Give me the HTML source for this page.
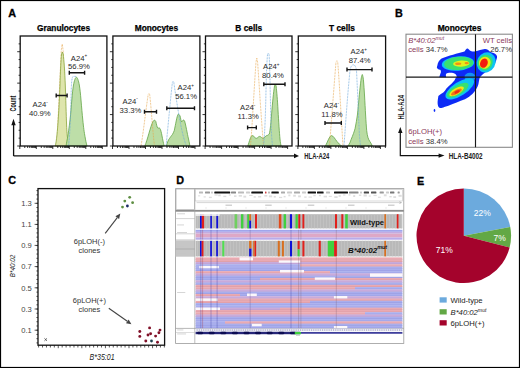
<!DOCTYPE html>
<html><head><meta charset="utf-8"><style>
html,body{margin:0;padding:0;background:#fff;}
svg{display:block;font-family:"Liberation Sans", sans-serif;}
</style></head><body>
<svg width="520" height="368" viewBox="0 0 520 368">
<rect width="520" height="368" fill="#fff"/>
<rect x="0.5" y="0.5" width="519" height="367" fill="none" stroke="#000" stroke-width="1.2"/>
<text x="8.2" y="17.1" font-size="10.8" font-weight="bold" font-style="normal" fill="#000" text-anchor="start" stroke="#000" stroke-width="0.3">A</text>
<text x="395.0" y="17.1" font-size="10.8" font-weight="bold" font-style="normal" fill="#000" text-anchor="start" stroke="#000" stroke-width="0.3">B</text>
<text x="8.2" y="184.3" font-size="10.8" font-weight="bold" font-style="normal" fill="#000" text-anchor="start" stroke="#000" stroke-width="0.3">C</text>
<text x="176.2" y="184.3" font-size="10.8" font-weight="bold" font-style="normal" fill="#000" text-anchor="start" stroke="#000" stroke-width="0.3">D</text>
<text x="417.0" y="185.0" font-size="10.8" font-weight="bold" font-style="normal" fill="#000" text-anchor="start" stroke="#000" stroke-width="0.3">E</text>
<text x="63.550000000000004" y="31.0" font-size="8.3" font-weight="bold" font-style="normal" fill="#000" text-anchor="middle" stroke="#000" stroke-width="0.25">Granulocytes</text>
<text x="156.4" y="31.0" font-size="8.3" font-weight="bold" font-style="normal" fill="#000" text-anchor="middle" stroke="#000" stroke-width="0.25">Monocytes</text>
<text x="248.75" y="31.0" font-size="8.3" font-weight="bold" font-style="normal" fill="#000" text-anchor="middle" stroke="#000" stroke-width="0.25">B cells</text>
<text x="341.95000000000005" y="31.0" font-size="8.3" font-weight="bold" font-style="normal" fill="#000" text-anchor="middle" stroke="#000" stroke-width="0.25">T cells</text>
<path d="M56.5,146 C58,125 59.8,80 61.3,50 L62.2,44 L63.1,50 C64.3,80 65.6,120 66.8,146" fill="none" fill-opacity="1.0" stroke="#e6a448" stroke-width="0.85" stroke-dasharray="0.7 0.8" stroke-linejoin="round"/>
<path d="M55.2,146 C56.5,142 57.5,130 58.2,120 C59,108 59.6,95 60,85 C60.4,72 60.9,60 61.6,54 L62.4,52 L63.2,54 C64,60 64.8,72 65.3,85 C65.8,98 66.2,115 66.6,125 C66.9,132 67.2,136 67.6,138.5 C68.3,142 69,145 69.5,146 Z" fill="#dce4a8" fill-opacity="0.95" stroke="#8aa63e" stroke-width="0.8" stroke-linejoin="round"/>
<path d="M66,146 C66.6,143 67,140 67.4,138.6 C68.2,134 69.2,127 70,120 C70.8,113 71.3,106 71.8,100 C72.3,94 72.8,89 73.5,85 C74.3,80.5 75.4,77.3 76.4,77.2 C77.4,77.3 78.5,80.5 79.3,85 C80,89 80.5,94 81,100 C81.6,107 82.2,114 82.8,120 C83.5,127 84.3,133 85,136.5 C85.6,140 86.3,143.5 87,146 Z" fill="#b6da9e" fill-opacity="0.9" stroke="#62a445" stroke-width="0.8" stroke-linejoin="round"/>
<path d="M68.5,146 C69.5,140 70.6,120 71,100 C71.2,88 71.5,80 72.5,77 C73.5,76.2 75,76.3 76.4,76.6" fill="none" fill-opacity="1.0" stroke="#6aa6da" stroke-width="0.8" stroke-dasharray="0.8 0.7" stroke-linejoin="round"/>
<path d="M144.8,146 C147.5,140 150.5,126 153,121.5 C154,119.8 155,119.8 155.8,121.5 C156.5,124 157,127.5 157.8,128 C158.5,128.3 159.3,127.5 160,128.5 C161.5,131 162.5,140 164.2,146 Z" fill="#b6da9e" fill-opacity="0.95" stroke="#62a445" stroke-width="0.8" stroke-linejoin="round"/>
<path d="M166.4,146 C167.5,142 168.5,139.5 169.4,138.6 C170.5,137 171.5,135.5 172.3,134.7 C173,133.5 173.7,132 174.2,130.8 C175,127 175.6,124 176.2,121 C176.8,118 177.5,115 178.2,114.2 C178.9,114 179.5,115 180.1,116.1 C180.6,118 181,121 181.5,122 C182.2,121.5 182.8,120 183.4,120 C183.9,120 184.3,120.5 184.6,121 C185.2,123 185.6,125 186,126.9 C186.7,130 187.4,134 188,136.7 C188.8,140 189.4,143 189.9,146 Z" fill="#b6da9e" fill-opacity="0.95" stroke="#62a445" stroke-width="0.8" stroke-linejoin="round"/>
<path d="M141,146 C143.5,132 146.5,104 148.3,94.2 L148.9,93.6 L149.6,94.2 C151,104 152.5,130 154.5,146" fill="none" fill-opacity="1.0" stroke="#e6a448" stroke-width="0.85" stroke-dasharray="0.7 0.8" stroke-linejoin="round"/>
<path d="M166,146 C167.8,130 170.3,100 172.4,82.4 L173.1,81.3 L173.8,82.4 C175.8,96 178.5,114 181,126 C183,136 184.8,142 186.5,146" fill="none" fill-opacity="1.0" stroke="#6aa6da" stroke-width="0.8" stroke-dasharray="0.8 0.7" stroke-linejoin="round"/>
<path d="M247.8,146 C249.5,141 250.8,135.6 252.2,135.6 C253.8,135.6 255,138.3 256.3,138.3 C257.6,138.3 258.4,136.4 259.6,136.4 C261,136.4 261.8,138.3 263,138.3 C264.5,138.3 265.5,135.6 266.6,135.6 C267.8,135.6 268.5,134.5 269.3,134 C270.3,130 271,122 271.6,114 C272.5,103 273.5,92 274.5,86 L275.3,84 L276.1,86 C276.8,92 277.5,100 278,110 C278.7,122 279.4,133 280,139 C280.4,143 280.8,145 281.2,146 Z" fill="#b6da9e" fill-opacity="0.95" stroke="#62a445" stroke-width="0.8" stroke-linejoin="round"/>
<path d="M250.5,146 C252,130 254,90 256,62 L256.8,58 L257.6,62 C258.5,75 259.6,92 260.4,104 C261.2,115 262.2,130 263.5,146" fill="none" fill-opacity="1.0" stroke="#e6a448" stroke-width="0.85" stroke-dasharray="0.7 0.8" stroke-linejoin="round"/>
<path d="M263.5,146 C264.5,138 265.3,120 265.8,100 C266.2,80 266.8,60 267.6,54 L268.3,53 L269,54 C269.6,60 270,80 270.4,100 C270.8,120 271.5,138 272.5,146" fill="none" fill-opacity="1.0" stroke="#6aa6da" stroke-width="0.8" stroke-dasharray="0.8 0.7" stroke-linejoin="round"/>
<path d="M325.4,146 C327.5,142 329.5,136 331.4,135.6 C333.2,135.6 335,139 337,141.5 C338.5,143.3 340,145 341.7,146 Z" fill="#b6da9e" fill-opacity="0.95" stroke="#62a445" stroke-width="0.8" stroke-linejoin="round"/>
<path d="M347.8,146 C349.5,144 350.5,141.5 351.1,139.5 C352.8,135.5 354.3,131.5 355.1,128.4 C356,124 356.8,119 357.4,115 C358,109 358.5,104 358.9,99.4 C359.5,93 360,88 360.5,83.8 C361,79 361.6,75.5 362.3,74.5 C362.8,75.5 363.1,77.5 363.4,79.4 C363.9,85 364.2,90 364.5,95 C364.9,102 365.3,109 365.6,115 C366,121 366.3,126 366.7,130.6 C367.3,136 368.3,139.5 370,141.7 C371,143.2 371.8,144.5 372.3,146 Z" fill="#b6da9e" fill-opacity="0.95" stroke="#62a445" stroke-width="0.8" stroke-linejoin="round"/>
<path d="M329.5,146 C331.5,120 334.5,80 336,62 L336.9,60.8 L337.7,62 C339.3,80 341.3,120 343,146" fill="none" fill-opacity="1.0" stroke="#e6a448" stroke-width="0.85" stroke-dasharray="0.7 0.8" stroke-linejoin="round"/>
<path d="M344,146 C345.5,125 347.5,95 350,70.5 C350.8,66 352,64.8 353.3,64.8 C354.6,64.8 355.8,66 356.5,70.5 C357.5,90 358.5,115 359.3,133 C359.8,140 360.2,144 360.5,146" fill="none" fill-opacity="1.0" stroke="#6aa6da" stroke-width="0.8" stroke-dasharray="0.8 0.7" stroke-linejoin="round"/>
<rect x="20.2" y="36.0" width="86.70" height="110.00" fill="none" stroke="#111" stroke-width="1.3"/>
<path d="M18.60,43.86H20.20 M17.20,51.71H20.20 M18.60,59.57H20.20 M18.60,67.43H20.20 M18.60,75.28H20.20 M17.20,83.14H20.20 M18.60,91.00H20.20 M18.60,98.86H20.20 M18.60,106.71H20.20 M17.20,114.57H20.20 M18.60,122.43H20.20 M18.60,130.28H20.20 M18.60,138.14H20.20 M17.20,146.00H20.20 M19.80,146.00v3.0 M24.77,146.00v2.0 M27.67,146.00v2.0 M29.73,146.00v2.0 M31.33,146.00v2.0 M32.64,146.00v2.0 M33.74,146.00v2.0 M34.70,146.00v2.0 M35.55,146.00v2.0 M36.30,146.00v3.0 M41.27,146.00v2.0 M44.17,146.00v2.0 M46.23,146.00v2.0 M47.83,146.00v2.0 M49.14,146.00v2.0 M50.24,146.00v2.0 M51.20,146.00v2.0 M52.05,146.00v2.0 M52.80,146.00v3.0 M57.77,146.00v2.0 M60.67,146.00v2.0 M62.73,146.00v2.0 M64.33,146.00v2.0 M65.64,146.00v2.0 M66.74,146.00v2.0 M67.70,146.00v2.0 M68.55,146.00v2.0 M69.30,146.00v3.0 M74.27,146.00v2.0 M77.17,146.00v2.0 M79.23,146.00v2.0 M80.83,146.00v2.0 M82.14,146.00v2.0 M83.24,146.00v2.0 M84.20,146.00v2.0 M85.05,146.00v2.0 M85.80,146.00v3.0 M90.77,146.00v2.0 M93.67,146.00v2.0 M95.73,146.00v2.0 M97.33,146.00v2.0 M98.64,146.00v2.0 M99.74,146.00v2.0 M100.70,146.00v2.0 M101.55,146.00v2.0 M102.30,146.00v3.0" stroke="#111" stroke-width="0.85" fill="none"/>
<rect x="112.9" y="36.0" width="87.00" height="110.00" fill="none" stroke="#111" stroke-width="1.3"/>
<path d="M111.30,43.86H112.90 M109.90,51.71H112.90 M111.30,59.57H112.90 M111.30,67.43H112.90 M111.30,75.28H112.90 M109.90,83.14H112.90 M111.30,91.00H112.90 M111.30,98.86H112.90 M111.30,106.71H112.90 M109.90,114.57H112.90 M111.30,122.43H112.90 M111.30,130.28H112.90 M111.30,138.14H112.90 M109.90,146.00H112.90 M112.50,146.00v3.0 M117.47,146.00v2.0 M120.37,146.00v2.0 M122.43,146.00v2.0 M124.03,146.00v2.0 M125.34,146.00v2.0 M126.44,146.00v2.0 M127.40,146.00v2.0 M128.25,146.00v2.0 M129.00,146.00v3.0 M133.97,146.00v2.0 M136.87,146.00v2.0 M138.93,146.00v2.0 M140.53,146.00v2.0 M141.84,146.00v2.0 M142.94,146.00v2.0 M143.90,146.00v2.0 M144.75,146.00v2.0 M145.50,146.00v3.0 M150.47,146.00v2.0 M153.37,146.00v2.0 M155.43,146.00v2.0 M157.03,146.00v2.0 M158.34,146.00v2.0 M159.44,146.00v2.0 M160.40,146.00v2.0 M161.25,146.00v2.0 M162.00,146.00v3.0 M166.97,146.00v2.0 M169.87,146.00v2.0 M171.93,146.00v2.0 M173.53,146.00v2.0 M174.84,146.00v2.0 M175.94,146.00v2.0 M176.90,146.00v2.0 M177.75,146.00v2.0 M178.50,146.00v3.0 M183.47,146.00v2.0 M186.37,146.00v2.0 M188.43,146.00v2.0 M190.03,146.00v2.0 M191.34,146.00v2.0 M192.44,146.00v2.0 M193.40,146.00v2.0 M194.25,146.00v2.0 M195.00,146.00v3.0" stroke="#111" stroke-width="0.85" fill="none"/>
<rect x="205.5" y="36.0" width="86.50" height="110.00" fill="none" stroke="#111" stroke-width="1.3"/>
<path d="M203.90,43.86H205.50 M202.50,51.71H205.50 M203.90,59.57H205.50 M203.90,67.43H205.50 M203.90,75.28H205.50 M202.50,83.14H205.50 M203.90,91.00H205.50 M203.90,98.86H205.50 M203.90,106.71H205.50 M202.50,114.57H205.50 M203.90,122.43H205.50 M203.90,130.28H205.50 M203.90,138.14H205.50 M202.50,146.00H205.50 M205.10,146.00v3.0 M210.07,146.00v2.0 M212.97,146.00v2.0 M215.03,146.00v2.0 M216.63,146.00v2.0 M217.94,146.00v2.0 M219.04,146.00v2.0 M220.00,146.00v2.0 M220.85,146.00v2.0 M221.60,146.00v3.0 M226.57,146.00v2.0 M229.47,146.00v2.0 M231.53,146.00v2.0 M233.13,146.00v2.0 M234.44,146.00v2.0 M235.54,146.00v2.0 M236.50,146.00v2.0 M237.35,146.00v2.0 M238.10,146.00v3.0 M243.07,146.00v2.0 M245.97,146.00v2.0 M248.03,146.00v2.0 M249.63,146.00v2.0 M250.94,146.00v2.0 M252.04,146.00v2.0 M253.00,146.00v2.0 M253.85,146.00v2.0 M254.60,146.00v3.0 M259.57,146.00v2.0 M262.47,146.00v2.0 M264.53,146.00v2.0 M266.13,146.00v2.0 M267.44,146.00v2.0 M268.54,146.00v2.0 M269.50,146.00v2.0 M270.35,146.00v2.0 M271.10,146.00v3.0 M276.07,146.00v2.0 M278.97,146.00v2.0 M281.03,146.00v2.0 M282.63,146.00v2.0 M283.94,146.00v2.0 M285.04,146.00v2.0 M286.00,146.00v2.0 M286.85,146.00v2.0 M287.60,146.00v3.0" stroke="#111" stroke-width="0.85" fill="none"/>
<rect x="298.3" y="36.0" width="87.30" height="110.00" fill="none" stroke="#111" stroke-width="1.3"/>
<path d="M296.70,43.86H298.30 M295.30,51.71H298.30 M296.70,59.57H298.30 M296.70,67.43H298.30 M296.70,75.28H298.30 M295.30,83.14H298.30 M296.70,91.00H298.30 M296.70,98.86H298.30 M296.70,106.71H298.30 M295.30,114.57H298.30 M296.70,122.43H298.30 M296.70,130.28H298.30 M296.70,138.14H298.30 M295.30,146.00H298.30 M297.90,146.00v3.0 M302.87,146.00v2.0 M305.77,146.00v2.0 M307.83,146.00v2.0 M309.43,146.00v2.0 M310.74,146.00v2.0 M311.84,146.00v2.0 M312.80,146.00v2.0 M313.65,146.00v2.0 M314.40,146.00v3.0 M319.37,146.00v2.0 M322.27,146.00v2.0 M324.33,146.00v2.0 M325.93,146.00v2.0 M327.24,146.00v2.0 M328.34,146.00v2.0 M329.30,146.00v2.0 M330.15,146.00v2.0 M330.90,146.00v3.0 M335.87,146.00v2.0 M338.77,146.00v2.0 M340.83,146.00v2.0 M342.43,146.00v2.0 M343.74,146.00v2.0 M344.84,146.00v2.0 M345.80,146.00v2.0 M346.65,146.00v2.0 M347.40,146.00v3.0 M352.37,146.00v2.0 M355.27,146.00v2.0 M357.33,146.00v2.0 M358.93,146.00v2.0 M360.24,146.00v2.0 M361.34,146.00v2.0 M362.30,146.00v2.0 M363.15,146.00v2.0 M363.90,146.00v3.0 M368.87,146.00v2.0 M371.77,146.00v2.0 M373.83,146.00v2.0 M375.43,146.00v2.0 M376.74,146.00v2.0 M377.84,146.00v2.0 M378.80,146.00v2.0 M379.65,146.00v2.0 M380.40,146.00v3.0 M385.37,146.00v2.0" stroke="#111" stroke-width="0.85" fill="none"/>
<path d="M56.2,95.5H67.1M56.2,93.5v4M67.1,93.5v4" stroke="#151515" stroke-width="1.4" fill="none"/>
<path d="M69.3,72.7H84.6M69.3,70.7v4M84.6,70.7v4" stroke="#151515" stroke-width="1.4" fill="none"/>
<path d="M144.5,111.8H156.5M144.5,109.8v4M156.5,109.8v4" stroke="#151515" stroke-width="1.4" fill="none"/>
<path d="M166.8,108.3H194.5M166.8,106.3v4M194.5,106.3v4" stroke="#151515" stroke-width="1.4" fill="none"/>
<path d="M247.6,127.6H256.3M247.6,125.6v4M256.3,125.6v4" stroke="#151515" stroke-width="1.4" fill="none"/>
<path d="M263.8,84.3H285.0M263.8,82.3v4M285.0,82.3v4" stroke="#151515" stroke-width="1.4" fill="none"/>
<path d="M325.0,123.0H341.3M325.0,121.0v4M341.3,121.0v4" stroke="#151515" stroke-width="1.4" fill="none"/>
<path d="M347.0,69.6H372.0M347.0,67.6v4M372.0,67.6v4" stroke="#151515" stroke-width="1.4" fill="none"/>
<text x="70.8" y="60.50" font-size="7.7" fill="#2a2a2a">A24<tspan font-size="4.6" dy="-3.2">+</tspan></text>
<text x="68.1" y="69.4" font-size="7.7" font-weight="normal" font-style="normal" fill="#2a2a2a" text-anchor="start" >56.9%</text>
<text x="32.6" y="106.70" font-size="7.7" fill="#2a2a2a">A24<tspan font-size="4.6" dy="-3.2">-</tspan></text>
<text x="28.9" y="115.6" font-size="7.7" font-weight="normal" font-style="normal" fill="#2a2a2a" text-anchor="start" >40.9%</text>
<text x="122.6" y="103.60" font-size="7.7" fill="#2a2a2a">A24<tspan font-size="4.6" dy="-3.2">-</tspan></text>
<text x="119.6" y="112.5" font-size="7.7" font-weight="normal" font-style="normal" fill="#2a2a2a" text-anchor="start" >33.3%</text>
<text x="177.6" y="89.70" font-size="7.7" fill="#2a2a2a">A24<tspan font-size="4.6" dy="-3.2">+</tspan></text>
<text x="175.2" y="98.6" font-size="7.7" font-weight="normal" font-style="normal" fill="#2a2a2a" text-anchor="start" >56.1%</text>
<text x="240.1" y="110.40" font-size="7.7" fill="#2a2a2a">A24<tspan font-size="4.6" dy="-3.2">-</tspan></text>
<text x="237.6" y="119.3" font-size="7.7" font-weight="normal" font-style="normal" fill="#2a2a2a" text-anchor="start" >11.3%</text>
<text x="263.1" y="69.10" font-size="7.7" fill="#2a2a2a">A24<tspan font-size="4.6" dy="-3.2">+</tspan></text>
<text x="262.1" y="78.0" font-size="7.7" font-weight="normal" font-style="normal" fill="#2a2a2a" text-anchor="start" >80.4%</text>
<text x="323.8" y="108.40" font-size="7.7" fill="#2a2a2a">A24<tspan font-size="4.6" dy="-3.2">-</tspan></text>
<text x="321.3" y="117.3" font-size="7.7" font-weight="normal" font-style="normal" fill="#2a2a2a" text-anchor="start" >11.8%</text>
<text x="350.6" y="54.10" font-size="7.7" fill="#2a2a2a">A24<tspan font-size="4.6" dy="-3.2">+</tspan></text>
<text x="348.8" y="63.0" font-size="7.7" font-weight="normal" font-style="normal" fill="#2a2a2a" text-anchor="start" >87.4%</text>
<path d="M13.6,155.9H295.5 M13.6,155.9V124" stroke="#111" stroke-width="1.3" fill="none"/>
<path d="M299,155.9 L294,153.5 L294,158.3 Z" fill="#111"/>
<path d="M13.5,118.8 L11.3,125.2 L15.7,125.2 Z" fill="#111"/>
<text x="304.3" y="158.8" font-size="8.8" font-weight="bold" fill="#222" textLength="24.9" lengthAdjust="spacingAndGlyphs">HLA-A24</text>
<text transform="translate(15.7,111.5) rotate(-90)" x="0" y="0" font-size="9.2" font-weight="bold" fill="#111" textLength="15.9" lengthAdjust="spacingAndGlyphs">Count</text>
<text x="459.5" y="31.0" font-size="8.4" font-weight="bold" font-style="normal" fill="#000" text-anchor="middle" stroke="#000" stroke-width="0.25">Monocytes</text>
<defs><filter id="bl" x="-10%" y="-10%" width="120%" height="120%"><feGaussianBlur stdDeviation="0.45"/></filter></defs>
<g filter="url(#bl)">
<path d="M437.3,65.7 C437.8,62.5 439.5,59.8 441.6,58.6 C445,57 449,55.8 453,54.8 C457,53.5 461,52.6 464.5,51.6 C465.5,49.5 466.5,48.2 467.6,48.4 C468.8,48.8 469.5,50.5 470.8,51 C472.5,51.6 474,51.6 475.5,51.3 C478.5,50.5 481.5,49.4 484.8,49 C487,48.8 488.3,50 489.8,51.6 C492.5,53 495,53.3 496.2,54.8 C497.3,56 497.2,57.2 496.8,58.5 C496,61.5 495,63.5 493.6,65.6 C491.5,68.5 489.5,70 487.3,71.3 C484.5,73 481.5,75 479.8,77.5 C479,80 478.8,82.5 478.4,84.3 C477.5,87 476.5,89 475.3,90.5 C473.5,93 471.5,95 469.1,96.7 C466.5,98.6 463.5,99.8 460.8,100.8 C458,102 455.3,103 452.6,103.9 C449.8,105 447,106.3 444.3,107 C442.8,107.6 441.2,108.2 440.2,108 C439,107.6 438.3,106.8 438.1,106 C437.7,104.7 437.5,103.3 437.6,101.9 C437.7,100.5 437.9,99 438.1,97.7 C438.2,96.8 438.3,96.2 438.6,95.7 C440,94.5 441.8,93.6 443.3,92.6 C444.5,91.3 445.4,89.8 446.4,88.4 C448,86.8 449.8,85.3 451.5,83.8 C452.6,82.6 453.6,81.4 454.6,80.2 C455,79.3 455.3,78.6 455.7,78.1 L456.8,76.8 C456.5,74.5 455,73 452,72.8 C449.5,72.6 447.2,72.8 446.2,73.8 C445.5,75 446,76.2 446.2,77.2 L439.3,77.2 C439.6,75.5 440.6,73.5 440.9,72.2 C441,70.8 440.6,70 440.1,69.8 C438.5,69.3 437.1,68.5 436.9,67.7 C436.8,67 437,66.3 437.3,65.7 Z" fill="#0a2cf6"/>
<ellipse cx="458" cy="63.6" rx="16.2" ry="7.1" transform="rotate(-5 458 63.6)" fill="#0cc4f4"/>
<ellipse cx="486.2" cy="62.4" rx="9.2" ry="10.4" transform="rotate(30 486.2 62.4)" fill="#0cc4f4"/>
<ellipse cx="470" cy="77" rx="5.5" ry="4.2" fill="#1890f4"/>
<ellipse cx="459.8" cy="88.8" rx="16.5" ry="6.8" transform="rotate(-33 459.8 88.8)" fill="#0cc4f4"/>
<ellipse cx="458.7" cy="63.4" rx="14.6" ry="6.6" transform="rotate(-4 458.7 63.4)" fill="#38e070"/>
<ellipse cx="485.2" cy="62.6" rx="7.4" ry="8.1" transform="rotate(30 485.2 62.6)" fill="#38e070"/>
<ellipse cx="457.7" cy="90.2" rx="12.2" ry="4.9" transform="rotate(-30 457.7 90.2)" fill="#38e070"/>
<ellipse cx="461.3" cy="63.6" rx="8.2" ry="3.1" transform="rotate(-3 461.3 63.6)" fill="#e4f01c"/>
<ellipse cx="484.8" cy="62.7" rx="5.8" ry="6.1" transform="rotate(30 484.8 62.7)" fill="#f0e818"/>
<ellipse cx="456.6" cy="91.3" rx="8.2" ry="3.1" transform="rotate(-30 456.6 91.3)" fill="#f0e818"/>
<ellipse cx="458.2" cy="63.7" rx="3.1" ry="1.3" fill="#f09018"/>
<ellipse cx="466.7" cy="63.1" rx="2.2" ry="1.2" fill="#f09018"/>
<ellipse cx="483.9" cy="63.2" rx="3.7" ry="4.8" transform="rotate(25 483.9 63.2)" fill="#f41c0c"/>
<ellipse cx="456.4" cy="92" rx="6" ry="2.1" transform="rotate(-28 456.4 92)" fill="#f07818"/>
<ellipse cx="457.2" cy="91.8" rx="3" ry="1.3" transform="rotate(-25 457.2 91.8)" fill="#f02c10"/>
<ellipse cx="434.5" cy="110.5" rx="0.8" ry="1.4" fill="#0a2cf6"/>
</g>
<rect x="406" y="34.2" width="106.4" height="113.1" fill="none" stroke="#8a8a8a" stroke-width="1.1"/>
<path d="M475.5,34.2V147.3 M406,77.1H512.4" stroke="#1a1a1a" stroke-width="1.15" fill="none"/>
<text x="408.2" y="42.7" font-size="7.7" font-style="italic" fill="#8c3a5c">B*40:02<tspan font-size="5.2" dy="-3">mut</tspan></text>
<text x="408.2" y="52.3" font-size="7.7" fill="#8c3a5c">cells <tspan fill="#333">34.7%</tspan></text>
<text x="512.0" y="42.7" font-size="7.7" font-weight="normal" font-style="normal" fill="#8c3a5c" text-anchor="end" >WT cells</text>
<text x="512.0" y="52.3" font-size="7.7" font-weight="normal" font-style="normal" fill="#333" text-anchor="end" >26.7%</text>
<text x="408.2" y="134.4" font-size="7.7" font-weight="normal" font-style="normal" fill="#8c3a5c" text-anchor="start" >6pLOH(+)</text>
<text x="408.2" y="143.8" font-size="7.7" fill="#8c3a5c">cells <tspan fill="#333">38.4%</tspan></text>
<path d="M400.3,131 V155.6 H440" stroke="#111" stroke-width="1.2" fill="none"/>
<path d="M400.3,126.9 L398.1,133 L402.5,133 Z M444.5,155.6 L438.6,153.4 L438.6,157.8 Z" fill="#111"/>
<text x="448.8" y="158.8" font-size="8.6" font-weight="bold" fill="#222" textLength="33.7" lengthAdjust="spacingAndGlyphs">HLA-B4002</text>
<text transform="translate(403.6,119.6) rotate(-90)" x="0" y="0" font-size="8.8" font-weight="bold" fill="#222" textLength="24.6" lengthAdjust="spacingAndGlyphs">HLA-A24</text>
<rect x="38.0" y="188.6" width="126.6" height="156.6" fill="none" stroke="#111" stroke-width="1.3"/>
<text x="31.8" y="206.0" font-size="7.6" font-weight="normal" font-style="normal" fill="#444" text-anchor="end" >1.3</text>
<text x="31.8" y="227.1" font-size="7.6" font-weight="normal" font-style="normal" fill="#444" text-anchor="end" >1.1</text>
<text x="31.8" y="248.1" font-size="7.6" font-weight="normal" font-style="normal" fill="#444" text-anchor="end" >0.9</text>
<text x="31.8" y="269.3" font-size="7.6" font-weight="normal" font-style="normal" fill="#444" text-anchor="end" >0.7</text>
<text x="31.8" y="290.5" font-size="7.6" font-weight="normal" font-style="normal" fill="#444" text-anchor="end" >0.5</text>
<text x="31.8" y="311.7" font-size="7.6" font-weight="normal" font-style="normal" fill="#444" text-anchor="end" >0.3</text>
<text x="31.8" y="332.9" font-size="7.6" font-weight="normal" font-style="normal" fill="#444" text-anchor="end" >0.1</text>
<path d="M36.40,190.61H38.0 M36.40,194.84H38.0 M36.40,199.07H38.0 M36.40,203.30H38.0 M36.40,207.53H38.0 M36.40,211.76H38.0 M36.40,215.99H38.0 M36.40,220.22H38.0 M36.40,224.45H38.0 M36.40,228.68H38.0 M36.40,232.91H38.0 M36.40,237.14H38.0 M36.40,241.37H38.0 M36.40,245.60H38.0 M36.40,249.83H38.0 M36.40,254.06H38.0 M36.40,258.29H38.0 M36.40,262.52H38.0 M36.40,266.75H38.0 M36.40,270.98H38.0 M36.40,275.21H38.0 M36.40,279.44H38.0 M36.40,283.67H38.0 M36.40,287.90H38.0 M36.40,292.13H38.0 M36.40,296.36H38.0 M36.40,300.59H38.0 M36.40,304.82H38.0 M36.40,309.05H38.0 M36.40,313.28H38.0 M36.40,317.51H38.0 M36.40,321.74H38.0 M36.40,325.97H38.0 M36.40,330.20H38.0 M36.40,334.43H38.0 M36.40,338.66H38.0 M36.40,342.89H38.0 M34.60,203.30H38.0 M34.60,224.40H38.0 M34.60,245.40H38.0 M34.60,266.60H38.0 M34.60,287.80H38.0 M34.60,309.00H38.0 M34.60,330.20H38.0 M38.60,345.2v2.3 M42.53,345.2v2.3 M46.46,345.2v2.3 M50.39,345.2v2.3 M54.32,345.2v2.3 M58.25,345.2v3.0 M62.18,345.2v2.3 M66.11,345.2v2.3 M70.04,345.2v2.3 M73.97,345.2v2.3 M77.90,345.2v2.3 M81.83,345.2v3.0 M85.76,345.2v2.3 M89.69,345.2v2.3 M93.62,345.2v2.3 M97.55,345.2v2.3 M101.48,345.2v2.3 M105.41,345.2v3.0 M109.34,345.2v2.3 M113.27,345.2v2.3 M117.20,345.2v2.3 M121.13,345.2v2.3 M125.06,345.2v2.3 M128.99,345.2v3.0 M132.92,345.2v2.3 M136.85,345.2v2.3 M140.78,345.2v2.3 M144.71,345.2v2.3 M148.64,345.2v2.3 M152.57,345.2v3.0 M156.50,345.2v2.3 M160.43,345.2v2.3 M164.36,345.2v2.3" stroke="#111" stroke-width="0.7" fill="none"/>
<text transform="translate(15.3,277.2) rotate(-90)" x="0" y="0" font-size="7.6" font-style="italic" fill="#111" textLength="22.4" lengthAdjust="spacingAndGlyphs">B*40:02</text>
<text x="89.6" y="360.3" font-size="8.3" font-style="italic" fill="#222" textLength="25" lengthAdjust="spacingAndGlyphs">B*35:01</text>
<path d="M44.4,338.3 l2.6,2.6 M47,338.3 l-2.6,2.6" stroke="#333" stroke-width="0.7"/>
<path d="M105.2,233.4L117.27,217.58" stroke="#444" stroke-width="1.1"/>
<path d="M120.3,213.6L119.10,218.97L115.44,216.18Z" fill="#444"/>
<path d="M108.8,308.2L127.32,321.31" stroke="#444" stroke-width="1.1"/>
<path d="M131.4,324.2L125.99,323.19L128.65,319.43Z" fill="#444"/>
<text x="89.4" y="243.8" font-size="7.5" font-weight="normal" font-style="normal" fill="#333" text-anchor="middle" >6pLOH(-)</text>
<text x="89.4" y="253.0" font-size="7.5" font-weight="normal" font-style="normal" fill="#333" text-anchor="middle" >clones</text>
<text x="89.4" y="303.3" font-size="7.5" font-weight="normal" font-style="normal" fill="#333" text-anchor="middle" >6pLOH(+)</text>
<text x="89.4" y="312.2" font-size="7.5" font-weight="normal" font-style="normal" fill="#333" text-anchor="middle" >clones</text>
<circle cx="129.7" cy="197.3" r="1.4" fill="#5e8e42"/>
<circle cx="124.8" cy="201.1" r="1.4" fill="#5e8e42"/>
<circle cx="132.6" cy="202.7" r="1.4" fill="#5e8e42"/>
<circle cx="122.5" cy="207.1" r="1.4" fill="#5e8e42"/>
<circle cx="127.4" cy="206.0" r="1.4" fill="#1b2a66"/>
<circle cx="139.8" cy="331.5" r="1.45" fill="#801028"/>
<circle cx="139.8" cy="336.4" r="1.45" fill="#801028"/>
<circle cx="149.6" cy="327.9" r="1.45" fill="#801028"/>
<circle cx="148.0" cy="335.0" r="1.45" fill="#801028"/>
<circle cx="150.6" cy="333.7" r="1.45" fill="#801028"/>
<circle cx="145.8" cy="341.0" r="1.45" fill="#801028"/>
<circle cx="155.6" cy="336.1" r="1.45" fill="#801028"/>
<circle cx="157.5" cy="342.3" r="1.45" fill="#801028"/>
<circle cx="158.9" cy="332.8" r="1.45" fill="#801028"/>
<circle cx="160.0" cy="330.1" r="1.45" fill="#801028"/>
<circle cx="151.5" cy="341.0" r="1.4" fill="#1d4050"/>
<path d="M463.8,235.8 L463.80,188.50 A47.3,47.3 0 0 1 510.26,226.94 Z" fill="#6caadd"/>
<path d="M463.8,235.8 L510.26,226.94 A47.3,47.3 0 0 1 509.61,247.56 Z" fill="#62a845"/>
<path d="M463.8,235.8 L509.61,247.56 A47.3,47.3 0 1 1 463.80,188.50 Z" fill="#a4032c"/>
<text x="473.7" y="216.0" font-size="8.5" font-weight="normal" font-style="normal" fill="#fff" text-anchor="start" >22%</text>
<text x="493.5" y="240.7" font-size="8.5" font-weight="normal" font-style="normal" fill="#fff" text-anchor="start" >7%</text>
<text x="435.7" y="253.0" font-size="8.5" font-weight="normal" font-style="normal" fill="#fff" text-anchor="start" >71%</text>
<rect x="439.6" y="297.3" width="7.1" height="5.3" fill="#6caadd"/>
<text x="450.5" y="303.1" font-size="7.7" font-weight="normal" font-style="normal" fill="#222" text-anchor="start" >Wild-type</text>
<rect x="439.6" y="309.2" width="7.1" height="5.3" fill="#62a845"/>
<rect x="439.6" y="320.2" width="7.1" height="5.3" fill="#a4032c"/>
<text x="450.5" y="326.0" font-size="7.7" font-weight="normal" font-style="normal" fill="#222" text-anchor="start" >6pLOH(+)</text>
<text x="450.5" y="315.0" font-size="7.7" font-style="italic" fill="#222">B*40:02<tspan font-size="5.2" dy="-3">mut</tspan></text>
<rect x="175.6" y="188.6" width="228.20000000000002" height="154.79999999999998" fill="#fff" stroke="#9a9a9a" stroke-width="0.8"/>
<rect x="176.1" y="189.1" width="18.400000000000016" height="20.50000000000001" fill="#fff" stroke="#b0b0b0" stroke-width="0.6"/>
<rect x="175.6" y="209.9" width="228.20000000000002" height="1.8" fill="#8c8c8c"/>
<path d="M175.6,218.6H194.8 M175.6,233.8H194.8 M175.6,239.8H194.8" stroke="#aaa" stroke-width="0.5"/>
<rect x="175.6" y="240.3" width="19.200000000000017" height="16.4" fill="#c6c6c6"/>
<path d="M175.6,249H194.8" stroke="#a0a0a0" stroke-width="0.6"/>
<path d="M194.8,188.6V343.4" stroke="#a0a0a0" stroke-width="0.7"/>
<path d="M175.6,328.4H403.8" stroke="#999" stroke-width="0.7"/>
<path d="M175.6,332.5H194.8" stroke="#bbb" stroke-width="0.5"/>
<rect x="177.1" y="213.5" width="7.9" height="0.7" fill="#c4c4c4"/>
<rect x="177.1" y="224.6" width="6.9" height="0.7" fill="#c4c4c4"/>
<rect x="177.1" y="232.0" width="9.9" height="0.7" fill="#c4c4c4"/>
<rect x="177.1" y="246.0" width="6.4" height="0.7" fill="#c4c4c4"/>
<rect x="177.1" y="253.0" width="9.2" height="0.7" fill="#c4c4c4"/>
<rect x="177.1" y="292.3" width="8.2" height="0.7" fill="#c4c4c4"/>
<rect x="177.1" y="329.6" width="6.3" height="0.7" fill="#c4c4c4"/>
<rect x="177.1" y="333.6" width="9.0" height="0.7" fill="#c4c4c4"/>
<rect x="195.6" y="189.4" width="206.79999999999998" height="11.6" fill="#fff" stroke="#c0c0c0" stroke-width="0.6"/>
<rect x="199" y="191.6" width="4" height="1.8" rx="0.5" fill="#bbb"/>
<rect x="205" y="191.6" width="5" height="1.8" rx="0.5" fill="#999"/>
<rect x="211" y="191.6" width="2" height="1.8" rx="0.5" fill="#ccc"/>
<rect x="214.3" y="191.6" width="15.899999999999977" height="1.8" rx="0.5" fill="#111"/>
<rect x="231" y="191.6" width="5" height="1.8" rx="0.5" fill="#888"/>
<rect x="238" y="191.6" width="6" height="1.8" rx="0.5" fill="#bbb"/>
<rect x="246" y="191.6" width="4" height="1.8" rx="0.5" fill="#ccc"/>
<rect x="251.3" y="191.6" width="11.699999999999989" height="1.8" rx="0.5" fill="#111"/>
<rect x="265" y="191.6" width="1.5" height="1.8" rx="0.5" fill="#d04040"/>
<rect x="268" y="191.6" width="2" height="1.8" rx="0.5" fill="#bbb"/>
<rect x="271.4" y="191.6" width="7.400000000000034" height="1.8" rx="0.5" fill="#111"/>
<rect x="281" y="191.6" width="4" height="1.8" rx="0.5" fill="#aaa"/>
<rect x="287" y="191.6" width="5" height="1.8" rx="0.5" fill="#ccc"/>
<rect x="294" y="191.6" width="6" height="1.8" rx="0.5" fill="#aaa"/>
<rect x="302" y="191.6" width="4" height="1.8" rx="0.5" fill="#ccc"/>
<rect x="307.7" y="191.6" width="8.300000000000011" height="1.8" rx="0.5" fill="#111"/>
<rect x="317" y="191.6" width="6.600000000000023" height="1.8" rx="0.5" fill="#111"/>
<rect x="326" y="191.6" width="4" height="1.8" rx="0.5" fill="#bbb"/>
<rect x="334" y="191.6" width="14" height="1.8" rx="0.5" fill="#111"/>
<rect x="349" y="191.6" width="9.5" height="1.8" rx="0.5" fill="#888"/>
<rect x="360" y="191.6" width="2" height="1.8" rx="0.5" fill="#ccc"/>
<rect x="363.8" y="191.6" width="5.199999999999989" height="1.8" rx="0.5" fill="#444"/>
<rect x="371" y="191.6" width="5.399999999999977" height="1.8" rx="0.5" fill="#555"/>
<rect x="379.6" y="191.6" width="4.199999999999989" height="1.8" rx="0.5" fill="#999"/>
<rect x="386" y="191.6" width="3" height="1.8" rx="0.5" fill="#ccc"/>
<rect x="390" y="191.6" width="4.399999999999977" height="1.8" rx="0.5" fill="#777"/>
<rect x="397.6" y="191.6" width="2.099999999999966" height="1.8" rx="0.5" fill="#999"/>
<rect x="198.1" y="195.3" width="2.1" height="1.1" fill="#dedede"/>
<rect x="203.6" y="196.3" width="2.2" height="1.2" fill="#dedede"/>
<rect x="208.9" y="196.7" width="2.9" height="1.4" fill="#dedede"/>
<rect x="214.5" y="194.3" width="3.3" height="1.3" fill="#dedede"/>
<rect x="218.2" y="194.5" width="2.5" height="1.8" fill="#dedede"/>
<rect x="223.3" y="195.7" width="3.0" height="1.4" fill="#dedede"/>
<rect x="228.8" y="194.4" width="2.1" height="1.2" fill="#dedede"/>
<rect x="234.0" y="195.3" width="2.5" height="1.6" fill="#dedede"/>
<rect x="238.7" y="195.0" width="3.2" height="1.7" fill="#dedede"/>
<rect x="243.4" y="195.7" width="2.8" height="1.9" fill="#dedede"/>
<rect x="249.1" y="194.9" width="3.5" height="1.1" fill="#dedede"/>
<rect x="253.6" y="196.2" width="2.2" height="1.5" fill="#dedede"/>
<rect x="258.1" y="195.9" width="3.1" height="1.6" fill="#dedede"/>
<rect x="264.3" y="195.0" width="3.0" height="1.6" fill="#dedede"/>
<rect x="268.9" y="195.4" width="3.3" height="1.9" fill="#dedede"/>
<rect x="273.7" y="195.9" width="2.1" height="1.7" fill="#dedede"/>
<rect x="279.0" y="196.8" width="3.2" height="1.3" fill="#dedede"/>
<rect x="283.6" y="195.9" width="2.0" height="1.5" fill="#dedede"/>
<rect x="288.3" y="194.5" width="2.1" height="1.8" fill="#dedede"/>
<rect x="293.2" y="194.8" width="2.6" height="1.9" fill="#dedede"/>
<rect x="298.1" y="195.4" width="2.8" height="1.9" fill="#dedede"/>
<rect x="304.2" y="196.4" width="2.4" height="1.4" fill="#dedede"/>
<rect x="308.5" y="196.5" width="3.4" height="1.2" fill="#dedede"/>
<rect x="313.3" y="194.8" width="2.4" height="1.5" fill="#dedede"/>
<rect x="318.9" y="194.9" width="2.0" height="1.4" fill="#dedede"/>
<rect x="323.6" y="195.7" width="3.4" height="1.7" fill="#dedede"/>
<rect x="328.8" y="195.8" width="3.0" height="1.1" fill="#dedede"/>
<rect x="334.3" y="196.2" width="3.3" height="1.8" fill="#dedede"/>
<rect x="338.6" y="195.2" width="2.2" height="1.6" fill="#dedede"/>
<rect x="343.1" y="194.4" width="2.3" height="1.2" fill="#dedede"/>
<rect x="348.5" y="194.3" width="2.0" height="1.2" fill="#dedede"/>
<rect x="353.2" y="195.1" width="2.0" height="1.9" fill="#dedede"/>
<rect x="358.9" y="194.6" width="2.4" height="1.3" fill="#dedede"/>
<rect x="363.5" y="194.5" width="3.3" height="2.0" fill="#dedede"/>
<rect x="368.7" y="195.5" width="2.1" height="1.1" fill="#dedede"/>
<rect x="373.5" y="194.9" width="3.2" height="1.2" fill="#dedede"/>
<rect x="378.0" y="196.7" width="2.8" height="1.1" fill="#dedede"/>
<rect x="383.8" y="194.3" width="2.8" height="2.0" fill="#dedede"/>
<rect x="389.3" y="196.0" width="2.4" height="1.4" fill="#dedede"/>
<rect x="393.3" y="196.2" width="2.8" height="1.8" fill="#dedede"/>
<rect x="398.5" y="194.8" width="3.2" height="2.0" fill="#dedede"/>
<path d="M196.6,202.6H401.4" stroke="#bbb" stroke-width="0.6"/>
<path d="M399.4,201.6L401.4,202.6L399.4,203.6" stroke="#999" stroke-width="0.5" fill="none"/>
<rect x="225.5" y="204.6" width="6.5" height="1.2" fill="#c8c8c8"/>
<rect x="265.2" y="204.6" width="6.5" height="1.2" fill="#c8c8c8"/>
<rect x="307.8" y="204.6" width="6.5" height="1.2" fill="#c8c8c8"/>
<rect x="348" y="204.6" width="6.5" height="1.2" fill="#c8c8c8"/>
<rect x="388" y="204.6" width="6.5" height="1.2" fill="#c8c8c8"/>
<path d="M206,207.2v1.6" stroke="#ccc" stroke-width="0.5"/>
<path d="M226,207.2v1.6" stroke="#ccc" stroke-width="0.5"/>
<path d="M246,207.2v1.6" stroke="#ccc" stroke-width="0.5"/>
<path d="M266,207.2v1.6" stroke="#ccc" stroke-width="0.5"/>
<path d="M286,207.2v1.6" stroke="#ccc" stroke-width="0.5"/>
<path d="M306,207.2v1.6" stroke="#ccc" stroke-width="0.5"/>
<path d="M326,207.2v1.6" stroke="#ccc" stroke-width="0.5"/>
<path d="M346,207.2v1.6" stroke="#ccc" stroke-width="0.5"/>
<path d="M366,207.2v1.6" stroke="#ccc" stroke-width="0.5"/>
<path d="M386,207.2v1.6" stroke="#ccc" stroke-width="0.5"/>
<rect x="195.6" y="214.2" width="206.79999999999998" height="14.200000000000017" fill="#b9b9b9"/>
<rect x="197" y="214.2" width="0.6" height="14.200000000000017" fill="#c6c6c6"/>
<rect x="200" y="214.2" width="0.6" height="14.200000000000017" fill="#c6c6c6"/>
<rect x="203" y="214.2" width="0.6" height="14.200000000000017" fill="#c6c6c6"/>
<rect x="206" y="214.2" width="0.6" height="14.200000000000017" fill="#c6c6c6"/>
<rect x="209" y="214.2" width="0.6" height="14.200000000000017" fill="#c6c6c6"/>
<rect x="212" y="214.2" width="0.6" height="14.200000000000017" fill="#c6c6c6"/>
<rect x="215" y="214.2" width="0.6" height="14.200000000000017" fill="#c6c6c6"/>
<rect x="218" y="214.2" width="0.6" height="14.200000000000017" fill="#c6c6c6"/>
<rect x="221" y="214.2" width="0.6" height="14.200000000000017" fill="#c6c6c6"/>
<rect x="224" y="214.2" width="0.6" height="14.200000000000017" fill="#c6c6c6"/>
<rect x="227" y="214.2" width="0.6" height="14.200000000000017" fill="#c6c6c6"/>
<rect x="230" y="214.2" width="0.6" height="14.200000000000017" fill="#c6c6c6"/>
<rect x="233" y="214.2" width="0.6" height="14.200000000000017" fill="#c6c6c6"/>
<rect x="236" y="214.2" width="0.6" height="14.200000000000017" fill="#c6c6c6"/>
<rect x="239" y="214.2" width="0.6" height="14.200000000000017" fill="#c6c6c6"/>
<rect x="242" y="214.2" width="0.6" height="14.200000000000017" fill="#c6c6c6"/>
<rect x="245" y="214.2" width="0.6" height="14.200000000000017" fill="#c6c6c6"/>
<rect x="248" y="214.2" width="0.6" height="14.200000000000017" fill="#c6c6c6"/>
<rect x="251" y="214.2" width="0.6" height="14.200000000000017" fill="#c6c6c6"/>
<rect x="254" y="214.2" width="0.6" height="14.200000000000017" fill="#c6c6c6"/>
<rect x="257" y="214.2" width="0.6" height="14.200000000000017" fill="#c6c6c6"/>
<rect x="260" y="214.2" width="0.6" height="14.200000000000017" fill="#c6c6c6"/>
<rect x="263" y="214.2" width="0.6" height="14.200000000000017" fill="#c6c6c6"/>
<rect x="266" y="214.2" width="0.6" height="14.200000000000017" fill="#c6c6c6"/>
<rect x="269" y="214.2" width="0.6" height="14.200000000000017" fill="#c6c6c6"/>
<rect x="272" y="214.2" width="0.6" height="14.200000000000017" fill="#c6c6c6"/>
<rect x="275" y="214.2" width="0.6" height="14.200000000000017" fill="#c6c6c6"/>
<rect x="278" y="214.2" width="0.6" height="14.200000000000017" fill="#c6c6c6"/>
<rect x="281" y="214.2" width="0.6" height="14.200000000000017" fill="#c6c6c6"/>
<rect x="284" y="214.2" width="0.6" height="14.200000000000017" fill="#c6c6c6"/>
<rect x="287" y="214.2" width="0.6" height="14.200000000000017" fill="#c6c6c6"/>
<rect x="290" y="214.2" width="0.6" height="14.200000000000017" fill="#c6c6c6"/>
<rect x="293" y="214.2" width="0.6" height="14.200000000000017" fill="#c6c6c6"/>
<rect x="296" y="214.2" width="0.6" height="14.200000000000017" fill="#c6c6c6"/>
<rect x="299" y="214.2" width="0.6" height="14.200000000000017" fill="#c6c6c6"/>
<rect x="302" y="214.2" width="0.6" height="14.200000000000017" fill="#c6c6c6"/>
<rect x="305" y="214.2" width="0.6" height="14.200000000000017" fill="#c6c6c6"/>
<rect x="308" y="214.2" width="0.6" height="14.200000000000017" fill="#c6c6c6"/>
<rect x="311" y="214.2" width="0.6" height="14.200000000000017" fill="#c6c6c6"/>
<rect x="314" y="214.2" width="0.6" height="14.200000000000017" fill="#c6c6c6"/>
<rect x="317" y="214.2" width="0.6" height="14.200000000000017" fill="#c6c6c6"/>
<rect x="320" y="214.2" width="0.6" height="14.200000000000017" fill="#c6c6c6"/>
<rect x="323" y="214.2" width="0.6" height="14.200000000000017" fill="#c6c6c6"/>
<rect x="326" y="214.2" width="0.6" height="14.200000000000017" fill="#c6c6c6"/>
<rect x="329" y="214.2" width="0.6" height="14.200000000000017" fill="#c6c6c6"/>
<rect x="332" y="214.2" width="0.6" height="14.200000000000017" fill="#c6c6c6"/>
<rect x="335" y="214.2" width="0.6" height="14.200000000000017" fill="#c6c6c6"/>
<rect x="338" y="214.2" width="0.6" height="14.200000000000017" fill="#c6c6c6"/>
<rect x="341" y="214.2" width="0.6" height="14.200000000000017" fill="#c6c6c6"/>
<rect x="344" y="214.2" width="0.6" height="14.200000000000017" fill="#c6c6c6"/>
<rect x="347" y="214.2" width="0.6" height="14.200000000000017" fill="#c6c6c6"/>
<rect x="350" y="214.2" width="0.6" height="14.200000000000017" fill="#c6c6c6"/>
<rect x="353" y="214.2" width="0.6" height="14.200000000000017" fill="#c6c6c6"/>
<rect x="356" y="214.2" width="0.6" height="14.200000000000017" fill="#c6c6c6"/>
<rect x="359" y="214.2" width="0.6" height="14.200000000000017" fill="#c6c6c6"/>
<rect x="362" y="214.2" width="0.6" height="14.200000000000017" fill="#c6c6c6"/>
<rect x="365" y="214.2" width="0.6" height="14.200000000000017" fill="#c6c6c6"/>
<rect x="368" y="214.2" width="0.6" height="14.200000000000017" fill="#c6c6c6"/>
<rect x="371" y="214.2" width="0.6" height="14.200000000000017" fill="#c6c6c6"/>
<rect x="374" y="214.2" width="0.6" height="14.200000000000017" fill="#c6c6c6"/>
<rect x="377" y="214.2" width="0.6" height="14.200000000000017" fill="#c6c6c6"/>
<rect x="380" y="214.2" width="0.6" height="14.200000000000017" fill="#c6c6c6"/>
<rect x="383" y="214.2" width="0.6" height="14.200000000000017" fill="#c6c6c6"/>
<rect x="386" y="214.2" width="0.6" height="14.200000000000017" fill="#c6c6c6"/>
<rect x="389" y="214.2" width="0.6" height="14.200000000000017" fill="#c6c6c6"/>
<rect x="392" y="214.2" width="0.6" height="14.200000000000017" fill="#c6c6c6"/>
<rect x="395" y="214.2" width="0.6" height="14.200000000000017" fill="#c6c6c6"/>
<rect x="398" y="214.2" width="0.6" height="14.200000000000017" fill="#c6c6c6"/>
<rect x="401" y="214.2" width="0.6" height="14.200000000000017" fill="#c6c6c6"/>
<rect x="200.0" y="214.2" width="1.80" height="14.200000000000017" fill="#1010d8"/>
<rect x="201.8" y="214.2" width="2.30" height="14.200000000000017" fill="#e0201c"/>
<rect x="210.3" y="214.2" width="1.60" height="14.200000000000017" fill="#1010d8"/>
<rect x="216.3" y="214.2" width="1.80" height="14.200000000000017" fill="#1010d8"/>
<rect x="234.6" y="214.2" width="2.60" height="14.200000000000017" fill="#70d060"/>
<rect x="241.0" y="214.2" width="2.40" height="14.200000000000017" fill="#40d040"/>
<rect x="247.2" y="214.2" width="2.10" height="14.200000000000017" fill="#40d040"/>
<rect x="249.3" y="214.2" width="1.80" height="6.39" fill="#d87020"/>
<rect x="249.3" y="220.59" width="1.80" height="7.81" fill="#1010d8"/>
<rect x="255.0" y="214.2" width="2.00" height="14.200000000000017" fill="#e0201c"/>
<rect x="278.8" y="214.2" width="2.60" height="14.200000000000017" fill="#e04a1c"/>
<rect x="283.6" y="214.2" width="2.40" height="14.200000000000017" fill="#40d040"/>
<rect x="289.9" y="214.2" width="2.10" height="14.200000000000017" fill="#1010d8"/>
<rect x="295.5" y="214.2" width="2.30" height="14.200000000000017" fill="#40d040"/>
<rect x="298.3" y="214.2" width="2.00" height="14.200000000000017" fill="#e0201c"/>
<rect x="302.4" y="214.2" width="1.90" height="14.200000000000017" fill="#e0201c"/>
<rect x="335.0" y="214.2" width="2.00" height="14.200000000000017" fill="#e0201c"/>
<rect x="341.3" y="214.2" width="2.00" height="14.200000000000017" fill="#e0201c"/>
<rect x="345.2" y="214.2" width="2.60" height="14.200000000000017" fill="#40d040"/>
<rect x="384.4" y="214.2" width="1.60" height="14.200000000000017" fill="#d87020"/>
<rect x="396.8" y="214.2" width="1.70" height="14.200000000000017" fill="#e0201c"/>
<rect x="195.6" y="214.2" width="24" height="1.6" fill="#f4f4f4"/>
<rect x="195.6" y="240.8" width="206.79999999999998" height="15.599999999999966" fill="#b9b9b9"/>
<rect x="197" y="240.8" width="0.6" height="15.599999999999966" fill="#c6c6c6"/>
<rect x="200" y="240.8" width="0.6" height="15.599999999999966" fill="#c6c6c6"/>
<rect x="203" y="240.8" width="0.6" height="15.599999999999966" fill="#c6c6c6"/>
<rect x="206" y="240.8" width="0.6" height="15.599999999999966" fill="#c6c6c6"/>
<rect x="209" y="240.8" width="0.6" height="15.599999999999966" fill="#c6c6c6"/>
<rect x="212" y="240.8" width="0.6" height="15.599999999999966" fill="#c6c6c6"/>
<rect x="215" y="240.8" width="0.6" height="15.599999999999966" fill="#c6c6c6"/>
<rect x="218" y="240.8" width="0.6" height="15.599999999999966" fill="#c6c6c6"/>
<rect x="221" y="240.8" width="0.6" height="15.599999999999966" fill="#c6c6c6"/>
<rect x="224" y="240.8" width="0.6" height="15.599999999999966" fill="#c6c6c6"/>
<rect x="227" y="240.8" width="0.6" height="15.599999999999966" fill="#c6c6c6"/>
<rect x="230" y="240.8" width="0.6" height="15.599999999999966" fill="#c6c6c6"/>
<rect x="233" y="240.8" width="0.6" height="15.599999999999966" fill="#c6c6c6"/>
<rect x="236" y="240.8" width="0.6" height="15.599999999999966" fill="#c6c6c6"/>
<rect x="239" y="240.8" width="0.6" height="15.599999999999966" fill="#c6c6c6"/>
<rect x="242" y="240.8" width="0.6" height="15.599999999999966" fill="#c6c6c6"/>
<rect x="245" y="240.8" width="0.6" height="15.599999999999966" fill="#c6c6c6"/>
<rect x="248" y="240.8" width="0.6" height="15.599999999999966" fill="#c6c6c6"/>
<rect x="251" y="240.8" width="0.6" height="15.599999999999966" fill="#c6c6c6"/>
<rect x="254" y="240.8" width="0.6" height="15.599999999999966" fill="#c6c6c6"/>
<rect x="257" y="240.8" width="0.6" height="15.599999999999966" fill="#c6c6c6"/>
<rect x="260" y="240.8" width="0.6" height="15.599999999999966" fill="#c6c6c6"/>
<rect x="263" y="240.8" width="0.6" height="15.599999999999966" fill="#c6c6c6"/>
<rect x="266" y="240.8" width="0.6" height="15.599999999999966" fill="#c6c6c6"/>
<rect x="269" y="240.8" width="0.6" height="15.599999999999966" fill="#c6c6c6"/>
<rect x="272" y="240.8" width="0.6" height="15.599999999999966" fill="#c6c6c6"/>
<rect x="275" y="240.8" width="0.6" height="15.599999999999966" fill="#c6c6c6"/>
<rect x="278" y="240.8" width="0.6" height="15.599999999999966" fill="#c6c6c6"/>
<rect x="281" y="240.8" width="0.6" height="15.599999999999966" fill="#c6c6c6"/>
<rect x="284" y="240.8" width="0.6" height="15.599999999999966" fill="#c6c6c6"/>
<rect x="287" y="240.8" width="0.6" height="15.599999999999966" fill="#c6c6c6"/>
<rect x="290" y="240.8" width="0.6" height="15.599999999999966" fill="#c6c6c6"/>
<rect x="293" y="240.8" width="0.6" height="15.599999999999966" fill="#c6c6c6"/>
<rect x="296" y="240.8" width="0.6" height="15.599999999999966" fill="#c6c6c6"/>
<rect x="299" y="240.8" width="0.6" height="15.599999999999966" fill="#c6c6c6"/>
<rect x="302" y="240.8" width="0.6" height="15.599999999999966" fill="#c6c6c6"/>
<rect x="305" y="240.8" width="0.6" height="15.599999999999966" fill="#c6c6c6"/>
<rect x="308" y="240.8" width="0.6" height="15.599999999999966" fill="#c6c6c6"/>
<rect x="311" y="240.8" width="0.6" height="15.599999999999966" fill="#c6c6c6"/>
<rect x="314" y="240.8" width="0.6" height="15.599999999999966" fill="#c6c6c6"/>
<rect x="317" y="240.8" width="0.6" height="15.599999999999966" fill="#c6c6c6"/>
<rect x="320" y="240.8" width="0.6" height="15.599999999999966" fill="#c6c6c6"/>
<rect x="323" y="240.8" width="0.6" height="15.599999999999966" fill="#c6c6c6"/>
<rect x="326" y="240.8" width="0.6" height="15.599999999999966" fill="#c6c6c6"/>
<rect x="329" y="240.8" width="0.6" height="15.599999999999966" fill="#c6c6c6"/>
<rect x="332" y="240.8" width="0.6" height="15.599999999999966" fill="#c6c6c6"/>
<rect x="335" y="240.8" width="0.6" height="15.599999999999966" fill="#c6c6c6"/>
<rect x="338" y="240.8" width="0.6" height="15.599999999999966" fill="#c6c6c6"/>
<rect x="341" y="240.8" width="0.6" height="15.599999999999966" fill="#c6c6c6"/>
<rect x="344" y="240.8" width="0.6" height="15.599999999999966" fill="#c6c6c6"/>
<rect x="347" y="240.8" width="0.6" height="15.599999999999966" fill="#c6c6c6"/>
<rect x="350" y="240.8" width="0.6" height="15.599999999999966" fill="#c6c6c6"/>
<rect x="353" y="240.8" width="0.6" height="15.599999999999966" fill="#c6c6c6"/>
<rect x="356" y="240.8" width="0.6" height="15.599999999999966" fill="#c6c6c6"/>
<rect x="359" y="240.8" width="0.6" height="15.599999999999966" fill="#c6c6c6"/>
<rect x="362" y="240.8" width="0.6" height="15.599999999999966" fill="#c6c6c6"/>
<rect x="365" y="240.8" width="0.6" height="15.599999999999966" fill="#c6c6c6"/>
<rect x="368" y="240.8" width="0.6" height="15.599999999999966" fill="#c6c6c6"/>
<rect x="371" y="240.8" width="0.6" height="15.599999999999966" fill="#c6c6c6"/>
<rect x="374" y="240.8" width="0.6" height="15.599999999999966" fill="#c6c6c6"/>
<rect x="377" y="240.8" width="0.6" height="15.599999999999966" fill="#c6c6c6"/>
<rect x="380" y="240.8" width="0.6" height="15.599999999999966" fill="#c6c6c6"/>
<rect x="383" y="240.8" width="0.6" height="15.599999999999966" fill="#c6c6c6"/>
<rect x="386" y="240.8" width="0.6" height="15.599999999999966" fill="#c6c6c6"/>
<rect x="389" y="240.8" width="0.6" height="15.599999999999966" fill="#c6c6c6"/>
<rect x="392" y="240.8" width="0.6" height="15.599999999999966" fill="#c6c6c6"/>
<rect x="395" y="240.8" width="0.6" height="15.599999999999966" fill="#c6c6c6"/>
<rect x="398" y="240.8" width="0.6" height="15.599999999999966" fill="#c6c6c6"/>
<rect x="401" y="240.8" width="0.6" height="15.599999999999966" fill="#c6c6c6"/>
<rect x="200.0" y="240.8" width="1.70" height="15.599999999999966" fill="#1010d8"/>
<rect x="201.7" y="240.8" width="1.80" height="15.599999999999966" fill="#e0201c"/>
<rect x="210.2" y="240.8" width="1.70" height="15.599999999999966" fill="#1010d8"/>
<rect x="216.2" y="240.8" width="1.70" height="15.599999999999966" fill="#1010d8"/>
<rect x="222.3" y="240.8" width="2.00" height="15.599999999999966" fill="#50e050"/>
<rect x="249.1" y="240.8" width="2.40" height="7.80" fill="#d87020"/>
<rect x="249.1" y="248.60" width="2.40" height="7.80" fill="#1010d8"/>
<rect x="253.2" y="240.8" width="1.40" height="15.599999999999966" fill="#d87020"/>
<rect x="254.6" y="240.8" width="1.50" height="15.599999999999966" fill="#e0201c"/>
<rect x="277.8" y="240.8" width="2.00" height="15.599999999999966" fill="#d87020"/>
<rect x="281.9" y="240.8" width="2.00" height="15.599999999999966" fill="#d87020"/>
<rect x="290.0" y="240.8" width="2.00" height="15.599999999999966" fill="#1010d8"/>
<rect x="297.6" y="240.8" width="2.10" height="8.58" fill="#e0201c"/>
<rect x="297.6" y="249.38" width="2.10" height="7.02" fill="#40d040"/>
<rect x="302.4" y="240.8" width="2.00" height="15.599999999999966" fill="#e0201c"/>
<rect x="318.7" y="240.8" width="2.10" height="15.599999999999966" fill="#e0201c"/>
<rect x="327.8" y="240.8" width="6.30" height="15.599999999999966" fill="#40d040"/>
<rect x="334.1" y="240.8" width="2.80" height="15.599999999999966" fill="#e0201c"/>
<rect x="384.3" y="240.8" width="1.70" height="15.599999999999966" fill="#d87020"/>
<rect x="195.6" y="229.8" width="206.79999999999998" height="2.0" fill="#a9aef0"/>
<rect x="195.6" y="231.8" width="206.79999999999998" height="1.9" fill="#c4abe0"/>
<rect x="195.6" y="233.7" width="206.79999999999998" height="3.8" fill="#dea8c6"/>
<rect x="195.6" y="237.5" width="206.79999999999998" height="2.2" fill="#b8acea"/>
<path d="M195.6,230.9H402.4" stroke="#8890e0" stroke-width="0.4"/>
<rect x="195.60" y="257.40" width="206.80" height="2.28" fill="#eaaab2"/>
<rect x="195.60" y="259.13" width="206.80" height="0.55" fill="#d8969f"/>
<rect x="195.60" y="259.68" width="206.80" height="2.28" fill="#eaaab2"/>
<rect x="195.60" y="261.42" width="206.80" height="0.55" fill="#d8969f"/>
<rect x="195.60" y="261.97" width="206.80" height="2.28" fill="#c9abdb"/>
<rect x="195.60" y="263.70" width="206.80" height="0.55" fill="#b498cc"/>
<rect x="195.60" y="264.25" width="104.40" height="2.28" fill="#a9aeee"/>
<rect x="195.60" y="265.99" width="104.40" height="0.55" fill="#9398e0"/>
<rect x="300.00" y="264.25" width="102.40" height="2.28" fill="#eaaab2"/>
<rect x="300.00" y="265.99" width="102.40" height="0.55" fill="#d8969f"/>
<rect x="195.60" y="266.54" width="206.80" height="2.28" fill="#a9aeee"/>
<rect x="195.60" y="268.27" width="206.80" height="0.55" fill="#9398e0"/>
<rect x="195.60" y="268.82" width="206.80" height="2.28" fill="#a9aeee"/>
<rect x="195.60" y="270.55" width="206.80" height="0.55" fill="#9398e0"/>
<rect x="195.60" y="271.10" width="134.40" height="2.28" fill="#eaaab2"/>
<rect x="195.60" y="272.84" width="134.40" height="0.55" fill="#d8969f"/>
<rect x="330.00" y="271.10" width="72.40" height="2.28" fill="#a9aeee"/>
<rect x="330.00" y="272.84" width="72.40" height="0.55" fill="#9398e0"/>
<rect x="195.60" y="273.39" width="206.80" height="2.28" fill="#c9abdb"/>
<rect x="195.60" y="275.12" width="206.80" height="0.55" fill="#b498cc"/>
<rect x="195.60" y="275.67" width="206.80" height="2.28" fill="#a9aeee"/>
<rect x="195.60" y="277.40" width="206.80" height="0.55" fill="#9398e0"/>
<rect x="195.60" y="277.95" width="64.40" height="2.28" fill="#a9aeee"/>
<rect x="195.60" y="279.69" width="64.40" height="0.55" fill="#9398e0"/>
<rect x="260.00" y="277.95" width="142.40" height="2.28" fill="#eaaab2"/>
<rect x="260.00" y="279.69" width="142.40" height="0.55" fill="#d8969f"/>
<rect x="195.60" y="280.24" width="206.80" height="2.28" fill="#c9abdb"/>
<rect x="195.60" y="281.97" width="206.80" height="0.55" fill="#b498cc"/>
<rect x="195.60" y="282.52" width="206.80" height="2.28" fill="#a9aeee"/>
<rect x="195.60" y="284.26" width="206.80" height="0.55" fill="#9398e0"/>
<rect x="195.60" y="284.81" width="206.80" height="2.28" fill="#eaaab2"/>
<rect x="195.60" y="286.54" width="206.80" height="0.55" fill="#d8969f"/>
<rect x="195.60" y="287.09" width="159.40" height="2.28" fill="#eaaab2"/>
<rect x="195.60" y="288.82" width="159.40" height="0.55" fill="#d8969f"/>
<rect x="355.00" y="287.09" width="47.40" height="2.28" fill="#a9aeee"/>
<rect x="355.00" y="288.82" width="47.40" height="0.55" fill="#9398e0"/>
<rect x="195.60" y="289.37" width="206.80" height="2.28" fill="#c9abdb"/>
<rect x="195.60" y="291.11" width="206.80" height="0.55" fill="#b498cc"/>
<rect x="195.60" y="291.66" width="206.80" height="2.28" fill="#a9aeee"/>
<rect x="195.60" y="293.39" width="206.80" height="0.55" fill="#9398e0"/>
<rect x="195.60" y="293.94" width="44.40" height="2.28" fill="#eaaab2"/>
<rect x="195.60" y="295.68" width="44.40" height="0.55" fill="#d8969f"/>
<rect x="240.00" y="293.94" width="162.40" height="2.28" fill="#a9aeee"/>
<rect x="240.00" y="295.68" width="162.40" height="0.55" fill="#9398e0"/>
<rect x="195.60" y="296.23" width="206.80" height="2.28" fill="#c9abdb"/>
<rect x="195.60" y="297.96" width="206.80" height="0.55" fill="#b498cc"/>
<rect x="195.60" y="298.51" width="206.80" height="2.28" fill="#eaaab2"/>
<rect x="195.60" y="300.24" width="206.80" height="0.55" fill="#d8969f"/>
<rect x="195.60" y="300.79" width="114.40" height="2.28" fill="#eaaab2"/>
<rect x="195.60" y="302.53" width="114.40" height="0.55" fill="#d8969f"/>
<rect x="310.00" y="300.79" width="92.40" height="2.28" fill="#a9aeee"/>
<rect x="310.00" y="302.53" width="92.40" height="0.55" fill="#9398e0"/>
<rect x="195.60" y="303.08" width="206.80" height="2.28" fill="#a9aeee"/>
<rect x="195.60" y="304.81" width="206.80" height="0.55" fill="#9398e0"/>
<rect x="195.60" y="305.36" width="206.80" height="2.28" fill="#a9aeee"/>
<rect x="195.60" y="307.10" width="206.80" height="0.55" fill="#9398e0"/>
<rect x="195.60" y="307.65" width="84.40" height="2.28" fill="#c9abdb"/>
<rect x="195.60" y="309.38" width="84.40" height="0.55" fill="#b498cc"/>
<rect x="280.00" y="307.65" width="122.40" height="2.28" fill="#eaaab2"/>
<rect x="280.00" y="309.38" width="122.40" height="0.55" fill="#d8969f"/>
<rect x="195.60" y="309.93" width="206.80" height="2.28" fill="#eaaab2"/>
<rect x="195.60" y="311.66" width="206.80" height="0.55" fill="#d8969f"/>
<rect x="195.60" y="312.21" width="169.40" height="2.28" fill="#eaaab2"/>
<rect x="195.60" y="313.95" width="169.40" height="0.55" fill="#d8969f"/>
<rect x="365.00" y="312.21" width="37.40" height="2.28" fill="#a9aeee"/>
<rect x="365.00" y="313.95" width="37.40" height="0.55" fill="#9398e0"/>
<rect x="195.60" y="314.50" width="206.80" height="2.28" fill="#c9abdb"/>
<rect x="195.60" y="316.23" width="206.80" height="0.55" fill="#b498cc"/>
<rect x="195.60" y="316.78" width="206.80" height="2.28" fill="#a9aeee"/>
<rect x="195.60" y="318.51" width="206.80" height="0.55" fill="#9398e0"/>
<rect x="195.60" y="319.06" width="206.80" height="2.28" fill="#a9aeee"/>
<rect x="195.60" y="320.80" width="206.80" height="0.55" fill="#9398e0"/>
<rect x="195.60" y="321.35" width="29.40" height="2.28" fill="#a9aeee"/>
<rect x="195.60" y="323.08" width="29.40" height="0.55" fill="#9398e0"/>
<rect x="225.00" y="321.35" width="177.40" height="2.28" fill="#eaaab2"/>
<rect x="225.00" y="323.08" width="177.40" height="0.55" fill="#d8969f"/>
<rect x="195.60" y="323.63" width="206.80" height="2.28" fill="#a9aeee"/>
<rect x="195.60" y="325.37" width="206.80" height="0.55" fill="#9398e0"/>
<rect x="195.60" y="325.92" width="206.80" height="2.28" fill="#a9aeee"/>
<rect x="195.60" y="327.65" width="206.80" height="0.55" fill="#9398e0"/>
<rect x="239.5" y="257.4" width="13.50" height="3.00" fill="#fbf8fb"/>
<rect x="278.8" y="260.4" width="21.40" height="2.30" fill="#fbf8fb"/>
<rect x="199.3" y="265.9" width="19.60" height="2.40" fill="#fbf8fb"/>
<rect x="280.0" y="270.0" width="24.00" height="2.50" fill="#fbf8fb"/>
<rect x="370.0" y="273.4" width="32.40" height="3.40" fill="#fbf8fb"/>
<rect x="314.8" y="277.4" width="20.30" height="2.40" fill="#fbf8fb"/>
<rect x="247.0" y="293.5" width="9.80" height="2.50" fill="#fbf8fb"/>
<rect x="333.9" y="296.0" width="13.40" height="2.40" fill="#fbf8fb"/>
<rect x="195.6" y="298.4" width="22.10" height="2.50" fill="#fbf8fb"/>
<rect x="195.6" y="307.5" width="24.40" height="2.50" fill="#fbf8fb"/>
<rect x="251.9" y="323.8" width="9.80" height="2.50" fill="#fbf8fb"/>
<rect x="333.9" y="326.0" width="13.40" height="2.20" fill="#fbf8fb"/>
<path d="M200.8,229.8V239.6 M200.8,257.2V328.2" stroke="#3030a0" stroke-width="0.45" stroke-opacity="0.7"/>
<path d="M202.6,229.8V239.6 M202.6,257.2V328.2" stroke="#a03040" stroke-width="0.45" stroke-opacity="0.7"/>
<path d="M211.0,229.8V239.6 M211.0,257.2V328.2" stroke="#3030a0" stroke-width="0.45" stroke-opacity="0.7"/>
<path d="M217.1,229.8V239.6 M217.1,257.2V328.2" stroke="#3030a0" stroke-width="0.45" stroke-opacity="0.7"/>
<path d="M250.2,229.8V239.6 M250.2,257.2V328.2" stroke="#6a5a90" stroke-width="0.45" stroke-opacity="0.7"/>
<path d="M291.0,229.8V239.6 M291.0,257.2V328.2" stroke="#3030a0" stroke-width="0.45" stroke-opacity="0.7"/>
<path d="M298.6,229.8V239.6 M298.6,257.2V328.2" stroke="#806070" stroke-width="0.45" stroke-opacity="0.7"/>
<path d="M300.9,229.8V239.6 M300.9,257.2V328.2" stroke="#806070" stroke-width="0.45" stroke-opacity="0.7"/>
<path d="M336.3,229.8V239.6 M336.3,257.2V328.2" stroke="#806070" stroke-width="0.45" stroke-opacity="0.7"/>
<rect x="195.6" y="328.8" width="206.79999999999998" height="2.6" fill="#eeeef6"/>
<rect x="196.60" y="329.2" width="1.1" height="1.7" fill="#b8b8d0"/>
<rect x="198.80" y="329.2" width="1.1" height="1.7" fill="#b8b8d0"/>
<rect x="201.00" y="329.2" width="1.1" height="1.7" fill="#b8b8d0"/>
<rect x="203.20" y="329.2" width="1.1" height="1.7" fill="#b8b8d0"/>
<rect x="205.40" y="329.2" width="1.1" height="1.7" fill="#b8b8d0"/>
<rect x="207.60" y="329.2" width="1.1" height="1.7" fill="#b8b8d0"/>
<rect x="209.80" y="329.2" width="1.1" height="1.7" fill="#b8b8d0"/>
<rect x="212.00" y="329.2" width="1.1" height="1.7" fill="#b8b8d0"/>
<rect x="214.20" y="329.2" width="1.1" height="1.7" fill="#b8b8d0"/>
<rect x="216.40" y="329.2" width="1.1" height="1.7" fill="#b8b8d0"/>
<rect x="218.60" y="329.2" width="1.1" height="1.7" fill="#b8b8d0"/>
<rect x="220.80" y="329.2" width="1.1" height="1.7" fill="#b8b8d0"/>
<rect x="223.00" y="329.2" width="1.1" height="1.7" fill="#b8b8d0"/>
<rect x="225.20" y="329.2" width="1.1" height="1.7" fill="#b8b8d0"/>
<rect x="227.40" y="329.2" width="1.1" height="1.7" fill="#b8b8d0"/>
<rect x="229.60" y="329.2" width="1.1" height="1.7" fill="#b8b8d0"/>
<rect x="231.80" y="329.2" width="1.1" height="1.7" fill="#b8b8d0"/>
<rect x="234.00" y="329.2" width="1.1" height="1.7" fill="#b8b8d0"/>
<rect x="236.20" y="329.2" width="1.1" height="1.7" fill="#b8b8d0"/>
<rect x="238.40" y="329.2" width="1.1" height="1.7" fill="#b8b8d0"/>
<rect x="240.60" y="329.2" width="1.1" height="1.7" fill="#b8b8d0"/>
<rect x="242.80" y="329.2" width="1.1" height="1.7" fill="#b8b8d0"/>
<rect x="245.00" y="329.2" width="1.1" height="1.7" fill="#b8b8d0"/>
<rect x="247.20" y="329.2" width="1.1" height="1.7" fill="#b8b8d0"/>
<rect x="249.40" y="329.2" width="1.1" height="1.7" fill="#b8b8d0"/>
<rect x="251.60" y="329.2" width="1.1" height="1.7" fill="#b8b8d0"/>
<rect x="253.80" y="329.2" width="1.1" height="1.7" fill="#b8b8d0"/>
<rect x="256.00" y="329.2" width="1.1" height="1.7" fill="#b8b8d0"/>
<rect x="258.20" y="329.2" width="1.1" height="1.7" fill="#b8b8d0"/>
<rect x="260.40" y="329.2" width="1.1" height="1.7" fill="#b8b8d0"/>
<rect x="262.60" y="329.2" width="1.1" height="1.7" fill="#b8b8d0"/>
<rect x="264.80" y="329.2" width="1.1" height="1.7" fill="#b8b8d0"/>
<rect x="267.00" y="329.2" width="1.1" height="1.7" fill="#b8b8d0"/>
<rect x="269.20" y="329.2" width="1.1" height="1.7" fill="#b8b8d0"/>
<rect x="271.40" y="329.2" width="1.1" height="1.7" fill="#b8b8d0"/>
<rect x="273.60" y="329.2" width="1.1" height="1.7" fill="#b8b8d0"/>
<rect x="275.80" y="329.2" width="1.1" height="1.7" fill="#b8b8d0"/>
<rect x="278.00" y="329.2" width="1.1" height="1.7" fill="#b8b8d0"/>
<rect x="280.20" y="329.2" width="1.1" height="1.7" fill="#b8b8d0"/>
<rect x="282.40" y="329.2" width="1.1" height="1.7" fill="#b8b8d0"/>
<rect x="284.60" y="329.2" width="1.1" height="1.7" fill="#b8b8d0"/>
<rect x="286.80" y="329.2" width="1.1" height="1.7" fill="#b8b8d0"/>
<rect x="289.00" y="329.2" width="1.1" height="1.7" fill="#b8b8d0"/>
<rect x="291.20" y="329.2" width="1.1" height="1.7" fill="#b8b8d0"/>
<rect x="293.40" y="329.2" width="1.1" height="1.7" fill="#b8b8d0"/>
<rect x="295.60" y="329.2" width="1.1" height="1.7" fill="#b8b8d0"/>
<rect x="297.80" y="329.2" width="1.1" height="1.7" fill="#b8b8d0"/>
<rect x="300.00" y="329.2" width="1.1" height="1.7" fill="#b8b8d0"/>
<rect x="302.20" y="329.2" width="1.1" height="1.7" fill="#b8b8d0"/>
<rect x="304.40" y="329.2" width="1.1" height="1.7" fill="#b8b8d0"/>
<rect x="306.60" y="329.2" width="1.1" height="1.7" fill="#b8b8d0"/>
<rect x="308.80" y="329.2" width="1.1" height="1.7" fill="#b8b8d0"/>
<rect x="311.00" y="329.2" width="1.1" height="1.7" fill="#b8b8d0"/>
<rect x="313.20" y="329.2" width="1.1" height="1.7" fill="#b8b8d0"/>
<rect x="315.40" y="329.2" width="1.1" height="1.7" fill="#b8b8d0"/>
<rect x="317.60" y="329.2" width="1.1" height="1.7" fill="#b8b8d0"/>
<rect x="319.80" y="329.2" width="1.1" height="1.7" fill="#b8b8d0"/>
<rect x="322.00" y="329.2" width="1.1" height="1.7" fill="#b8b8d0"/>
<rect x="324.20" y="329.2" width="1.1" height="1.7" fill="#b8b8d0"/>
<rect x="326.40" y="329.2" width="1.1" height="1.7" fill="#b8b8d0"/>
<rect x="328.60" y="329.2" width="1.1" height="1.7" fill="#b8b8d0"/>
<rect x="330.80" y="329.2" width="1.1" height="1.7" fill="#b8b8d0"/>
<rect x="333.00" y="329.2" width="1.1" height="1.7" fill="#b8b8d0"/>
<rect x="335.20" y="329.2" width="1.1" height="1.7" fill="#b8b8d0"/>
<rect x="337.40" y="329.2" width="1.1" height="1.7" fill="#b8b8d0"/>
<rect x="339.60" y="329.2" width="1.1" height="1.7" fill="#b8b8d0"/>
<rect x="341.80" y="329.2" width="1.1" height="1.7" fill="#b8b8d0"/>
<rect x="344.00" y="329.2" width="1.1" height="1.7" fill="#b8b8d0"/>
<rect x="346.20" y="329.2" width="1.1" height="1.7" fill="#b8b8d0"/>
<rect x="348.40" y="329.2" width="1.1" height="1.7" fill="#b8b8d0"/>
<rect x="350.60" y="329.2" width="1.1" height="1.7" fill="#b8b8d0"/>
<rect x="352.80" y="329.2" width="1.1" height="1.7" fill="#b8b8d0"/>
<rect x="355.00" y="329.2" width="1.1" height="1.7" fill="#b8b8d0"/>
<rect x="357.20" y="329.2" width="1.1" height="1.7" fill="#b8b8d0"/>
<rect x="359.40" y="329.2" width="1.1" height="1.7" fill="#b8b8d0"/>
<rect x="361.60" y="329.2" width="1.1" height="1.7" fill="#b8b8d0"/>
<rect x="363.80" y="329.2" width="1.1" height="1.7" fill="#b8b8d0"/>
<rect x="366.00" y="329.2" width="1.1" height="1.7" fill="#b8b8d0"/>
<rect x="368.20" y="329.2" width="1.1" height="1.7" fill="#b8b8d0"/>
<rect x="370.40" y="329.2" width="1.1" height="1.7" fill="#b8b8d0"/>
<rect x="372.60" y="329.2" width="1.1" height="1.7" fill="#b8b8d0"/>
<rect x="374.80" y="329.2" width="1.1" height="1.7" fill="#b8b8d0"/>
<rect x="377.00" y="329.2" width="1.1" height="1.7" fill="#b8b8d0"/>
<rect x="379.20" y="329.2" width="1.1" height="1.7" fill="#b8b8d0"/>
<rect x="381.40" y="329.2" width="1.1" height="1.7" fill="#b8b8d0"/>
<rect x="383.60" y="329.2" width="1.1" height="1.7" fill="#b8b8d0"/>
<rect x="385.80" y="329.2" width="1.1" height="1.7" fill="#b8b8d0"/>
<rect x="388.00" y="329.2" width="1.1" height="1.7" fill="#b8b8d0"/>
<rect x="390.20" y="329.2" width="1.1" height="1.7" fill="#b8b8d0"/>
<rect x="392.40" y="329.2" width="1.1" height="1.7" fill="#b8b8d0"/>
<rect x="394.60" y="329.2" width="1.1" height="1.7" fill="#b8b8d0"/>
<rect x="396.80" y="329.2" width="1.1" height="1.7" fill="#b8b8d0"/>
<rect x="399.00" y="329.2" width="1.1" height="1.7" fill="#b8b8d0"/>
<rect x="401.20" y="329.2" width="1.1" height="1.7" fill="#b8b8d0"/>
<rect x="195.6" y="331.8" width="104.40" height="2.4" fill="#262678"/>
<rect x="300" y="332.1" width="102.40" height="1.6" fill="#2a2a92"/>
<rect x="197.10" y="331.7" width="6" height="2.6" rx="1.2" fill="#0c0c52"/>
<rect x="208.70" y="331.7" width="6" height="2.6" rx="1.2" fill="#0c0c52"/>
<rect x="220.30" y="331.7" width="6" height="2.6" rx="1.2" fill="#0c0c52"/>
<rect x="231.90" y="331.7" width="6" height="2.6" rx="1.2" fill="#0c0c52"/>
<rect x="243.50" y="331.7" width="6" height="2.6" rx="1.2" fill="#0c0c52"/>
<rect x="255.10" y="331.7" width="6" height="2.6" rx="1.2" fill="#0c0c52"/>
<rect x="266.70" y="331.7" width="6" height="2.6" rx="1.2" fill="#0c0c52"/>
<rect x="278.30" y="331.7" width="6" height="2.6" rx="1.2" fill="#0c0c52"/>
<rect x="289.90" y="331.7" width="6" height="2.6" rx="1.2" fill="#0c0c52"/>
<rect x="294.8" y="331.9" width="6.1" height="2.4" fill="#40d040"/>
<rect x="296" y="335.2" width="4" height="0.8" fill="#c8c8c8"/>
<text x="349.9" y="225.0" font-size="7.6" font-weight="bold" fill="#111">Wild-type</text>
<text x="347.9" y="253.2" font-size="8" font-weight="bold" font-style="italic" fill="#111">B*40:02<tspan font-size="5.4" dy="-4">mut</tspan></text>
</svg></body></html>
